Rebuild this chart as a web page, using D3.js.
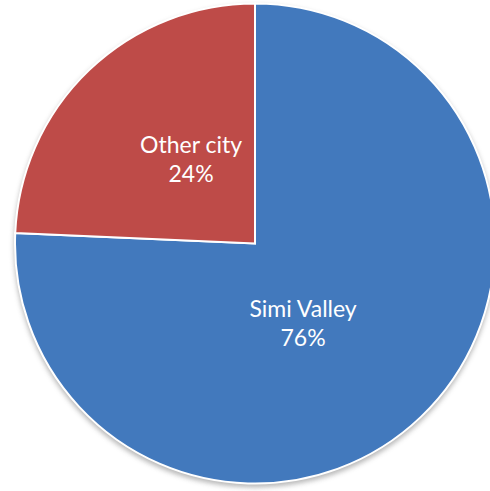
<!DOCTYPE html>
<html>
<head>
<meta charset="utf-8">
<script src="https://cdn.jsdelivr.net/npm/d3@7"></script>
<style>
  body { margin: 0; background: #fff; }
  svg { display: block; }
</style>
</head>
<body>
<svg width="490" height="491"></svg>
<script>
let categories = ["Simi Valley", "Other city"];
let values = [75.7, 24.3];
let labels = ["76%", "24%"];

let svg = d3.select('svg'),
  cx = 255,
  cy = 243.5,
  radius = 240;

let color = d3.scaleOrdinal()
  .domain(categories)
  .range(['#4279BD', '#BE4B48']);

let data = categories.map((c, i) => ({ name: c, value: values[i], label: labels[i] }));

let pie = d3.pie()
  .sort(null)
  .value(d => d.value);

let arc = d3.arc().innerRadius(0).outerRadius(radius);

// labels sit a bit clockwise of the slice middle, like the original
let labelRadius = 100,
  labelShift = [15, 4];

let defs = svg.append('defs');
defs.append('filter')
  .attr('id', 'shadow')
  .attr('x', '-10%').attr('y', '-10%')
  .attr('width', '120%').attr('height', '120%')
  .append('feGaussianBlur')
  .attr('stdDeviation', 2.5);

let g = svg.append('g')
  .attr('transform', 'translate(' + cx + ',' + cy + ')');

// soft shadow under the pie
g.append('circle')
  .attr('cx', 0)
  .attr('cy', 3)
  .attr('r', radius + 1)
  .style('fill', '#9a9a9a')
  .style('opacity', 0.7)
  .attr('filter', 'url(#shadow)');

let slices = g.selectAll('.slice')
  .data(pie(data))
  .enter()
  .append('g')
  .attr('class', 'slice');

slices.append('path')
  .attr('d', arc)
  .style('fill', d => color(d.data.name))
  .style('stroke', '#fff')
  .style('stroke-width', 2);

let text = slices.append('text')
  .attr('transform', (d, i) => {
    let a = (d.startAngle + d.endAngle) / 2 + labelShift[i] * Math.PI / 180;
    return 'translate(' + (Math.sin(a) * labelRadius) + ',' + (-Math.cos(a) * labelRadius) + ')';
  })
  .attr('text-anchor', 'middle')
  .style('font-family', 'Lato, "Open Sans", sans-serif')
  .style('font-size', '23px')
  .style('fill', '#fff');

text.append('tspan')
  .attr('x', 0)
  .attr('y', -14)
  .text(d => d.data.name);

text.append('tspan')
  .attr('x', 0)
  .attr('y', 15)
  .text(d => d.data.label);
</script>
</body>
</html>
